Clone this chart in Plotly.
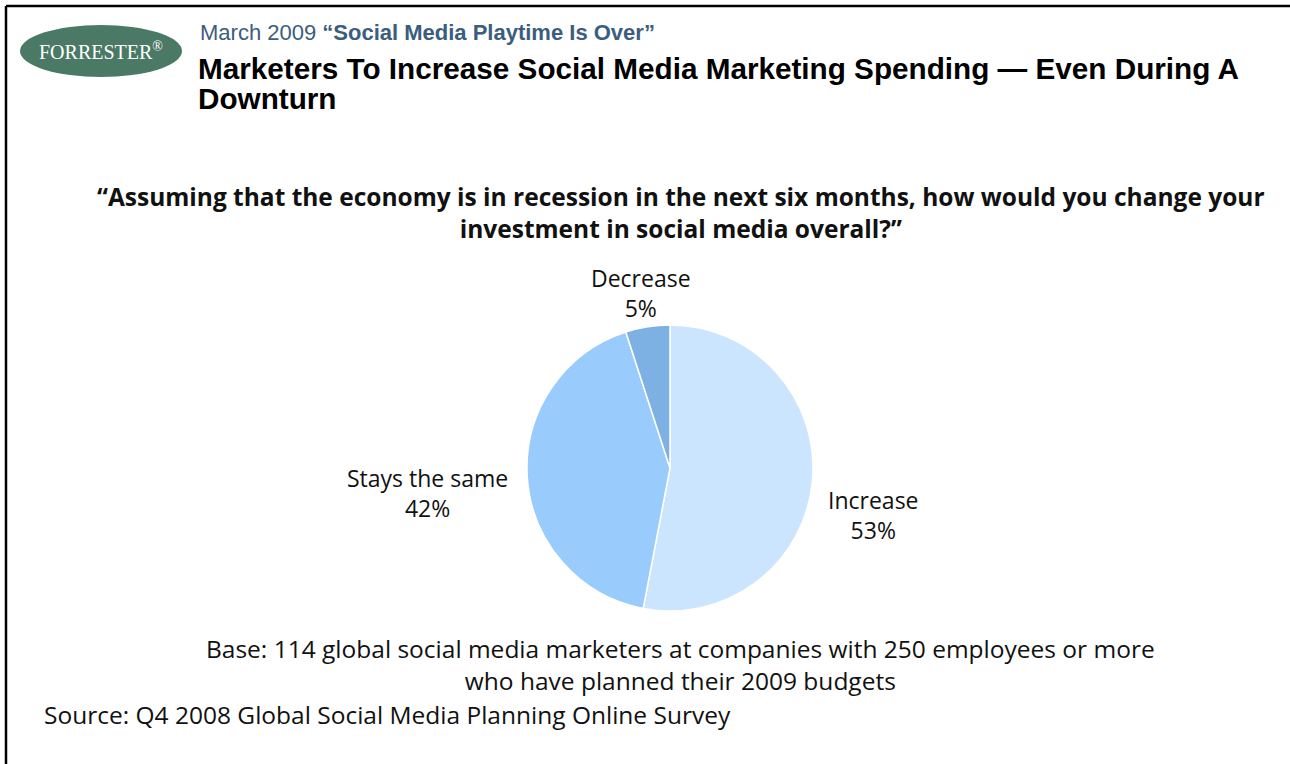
import plotly.graph_objects as go

# ---- data ----
categories = ["Increase", "Stays the same", "Decrease"]
values = [53, 42, 5]
colors = ["#cce5fe", "#99cbfd", "#7eb1e3"]

W, H = 1290, 764


def px(x):
    return x / W


def py(y):
    return 1 - y / H


fig = go.Figure()
fig.add_trace(go.Pie(
    labels=categories,
    values=values,
    sort=False,
    direction="clockwise",
    rotation=0,
    marker=dict(colors=colors, line=dict(color="white", width=1.5)),
    textinfo="none",
    hoverinfo="skip",
    showlegend=False,
    domain=dict(x=[px(527), px(813)], y=[py(611), py(325)]),
))

label_pos = {
    "Increase": (873, 515),
    "Stays the same": (427, 493),
    "Decrease": (641, 293),
}

LABEL_FONT = dict(family="Open Sans", size=23, color="#111111")
BODY_FONT = dict(family="Open Sans", size=24.5, color="#111111")


def ann(x, y, text, font, xanchor="center"):
    return dict(x=px(x), y=py(y), xref="paper", yref="paper", text=text,
                showarrow=False, xanchor=xanchor, yanchor="middle",
                align=xanchor if xanchor != "center" else "center", font=font)


annotations = []
for cat, val in zip(categories, values):
    x, y = label_pos[cat]
    annotations.append(ann(x, y, f"{cat}<br>{val}%", LABEL_FONT))

# header
annotations += [
    ann(198, 33, "March 2009 <b>“Social Media Playtime Is Over”</b>",
        dict(family="Liberation Sans", size=22, color="#3a5d80"), "left"),
    ann(196, 68, "<b>Marketers To Increase Social Media Marketing Spending — Even During A</b>",
        dict(family="Liberation Sans", size=29.7, color="#000000"), "left"),
    ann(196, 98, "<b>Downturn</b>",
        dict(family="Liberation Sans", size=29.7, color="#000000"), "left"),
    ann(101, 51, "FORRESTER<sup>®</sup>",
        dict(family="Liberation Serif", size=20, color="#ffffff")),
    ann(681, 212, "<b>“Assuming that the economy is in recession in the next six months, how would you change your"
                  "<br>investment in social media overall?”</b>",
        dict(family="Open Sans", size=24.5, color="#111111")),
    ann(680, 664, "Base: 114 global social media marketers at companies with 250 employees or more"
                  "<br>who have planned their 2009 budgets", BODY_FONT),
    ann(42, 714, "Source: Q4 2008 Global Social Media Planning Online Survey", BODY_FONT, "left"),
]

shapes = [
    dict(type="circle", xref="paper", yref="paper",
         x0=px(20), x1=px(182), y0=py(77), y1=py(25),
         fillcolor="#4a7a66", line=dict(width=0), layer="below"),
    dict(type="line", xref="paper", yref="paper",
         x0=px(6), x1=1, y0=py(6), y1=py(6), line=dict(color="black", width=2.5)),
    dict(type="line", xref="paper", yref="paper",
         x0=px(6), x1=px(6), y0=py(6), y1=0, line=dict(color="black", width=2.5)),
]

fig.update_layout(
    width=W, height=H,
    margin=dict(l=0, r=0, t=0, b=0),
    paper_bgcolor="white", plot_bgcolor="white",
    annotations=annotations, shapes=shapes,
)

fig.write_html("out.html", config={"displayModeBar": False},
               post_script="document.body.style.margin='0';")
